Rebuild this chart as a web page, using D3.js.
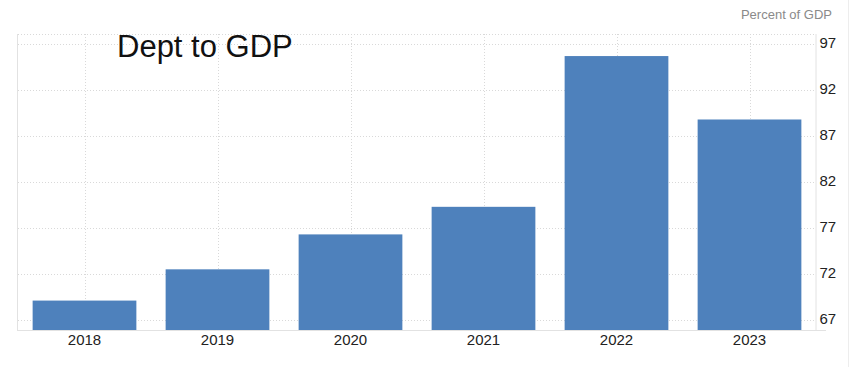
<!DOCTYPE html>
<html>
<head>
<meta charset="utf-8">
<script src="https://cdn.jsdelivr.net/npm/d3@7"></script>
<style>
  body { margin: 0; background: #fff; }
  svg { display: block; font-family: Arial, "Liberation Sans", Helvetica, sans-serif; }
</style>
</head>
<body>
<svg id="chart" width="858" height="367"></svg>
<script>
// data
const years = ['2018', '2019', '2020', '2021', '2022', '2023'];
const debtToGdp = [69.1, 72.5, 76.3, 79.3, 95.7, 88.8];
const yTicks = [67, 72, 77, 82, 87, 92, 97];

const svg = d3.select('#chart');
const margin = {top: 34, right: 42, bottom: 37, left: 18};
const W = +svg.attr('width'), H = +svg.attr('height');
const x0 = margin.left, x1 = W - margin.right;
const y0 = H - margin.bottom, y1 = margin.top;

const x = d3.scaleBand().domain(years).range([x0, x1])
  .paddingInner(0.22).paddingOuter(0.11);
const y = d3.scaleLinear().domain([65.9, 98.1]).range([y0, y1]);

// outer right border
svg.append('line')
  .attr('x1', 848.5).attr('x2', 848.5).attr('y1', 0).attr('y2', H)
  .attr('stroke', '#ededed');

// unit label
svg.append('text')
  .attr('x', 832).attr('y', 19)
  .attr('text-anchor', 'end')
  .attr('fill', '#8a8a8a')
  .style('font-size', '13px')
  .text('Percent of GDP');

const grid = svg.append('g').attr('class', 'grid');

// top border (dotted)
grid.append('line')
  .attr('x1', x0).attr('x2', x1).attr('y1', y1 + 0.5).attr('y2', y1 + 0.5)
  .attr('stroke', '#d9d9d9').attr('stroke-dasharray', '1,2');

// horizontal grid lines
grid.selectAll('.hgrid')
  .data(yTicks)
  .enter().append('line')
  .attr('class', 'hgrid')
  .attr('x1', x0).attr('x2', x1)
  .attr('y1', d => Math.round(y(d)) + 0.5)
  .attr('y2', d => Math.round(y(d)) + 0.5)
  .attr('stroke', '#d9d9d9')
  .attr('stroke-dasharray', '1,2');

// vertical grid lines at category centres
grid.selectAll('.vgrid')
  .data(years)
  .enter().append('line')
  .attr('class', 'vgrid')
  .attr('x1', d => Math.round(x(d) + x.bandwidth() / 2) + 0.5)
  .attr('x2', d => Math.round(x(d) + x.bandwidth() / 2) + 0.5)
  .attr('y1', y1).attr('y2', y0)
  .attr('stroke', '#d9d9d9')
  .attr('stroke-dasharray', '1,2');

// title
svg.append('text')
  .attr('x', 117).attr('y', 57)
  .attr('fill', '#111')
  .style('font-size', '31px')
  .text('Dept to GDP');

// bars
svg.selectAll('.bar')
  .data(years.map((yr, i) => ({year: yr, value: debtToGdp[i]})))
  .enter().append('rect')
  .attr('class', 'bar')
  .attr('x', d => x(d.year))
  .attr('width', x.bandwidth())
  .attr('y', d => y(d.value))
  .attr('height', d => y0 - y(d.value))
  .attr('fill', '#4e81bc');

// frame lines
svg.append('line')
  .attr('x1', x0 - 0.5).attr('x2', x0 - 0.5).attr('y1', y1).attr('y2', y0)
  .attr('stroke', '#e2e2e2');
svg.append('line')
  .attr('x1', x0 - 1).attr('x2', 826).attr('y1', y0 + 0.5).attr('y2', y0 + 0.5)
  .attr('stroke', '#e2e2e2');

// right y axis
const yAxis = svg.append('g')
  .attr('transform', 'translate(' + (x1 - 0.5) + ',0)')
  .call(d3.axisRight(y).tickValues(yTicks).tickSize(0).tickPadding(4));
yAxis.select('.domain').attr('stroke', '#e2e2e2').attr('d', 'M0.5,' + y1 + 'V' + y0);
yAxis.selectAll('text')
  .attr('fill', '#222')
  .attr('dy', '0.25em')
  .style('font-size', '15px')
  .style('font-family', 'Arial, "Liberation Sans", Helvetica, sans-serif');

// x axis labels
const xAxis = svg.append('g')
  .attr('transform', 'translate(0,' + y0 + ')')
  .call(d3.axisBottom(x).tickSize(0).tickPadding(4));
xAxis.select('.domain').remove();
xAxis.selectAll('text')
  .attr('fill', '#222')
  .style('font-size', '15px')
  .style('font-family', 'Arial, "Liberation Sans", Helvetica, sans-serif');
</script>
</body>
</html>
